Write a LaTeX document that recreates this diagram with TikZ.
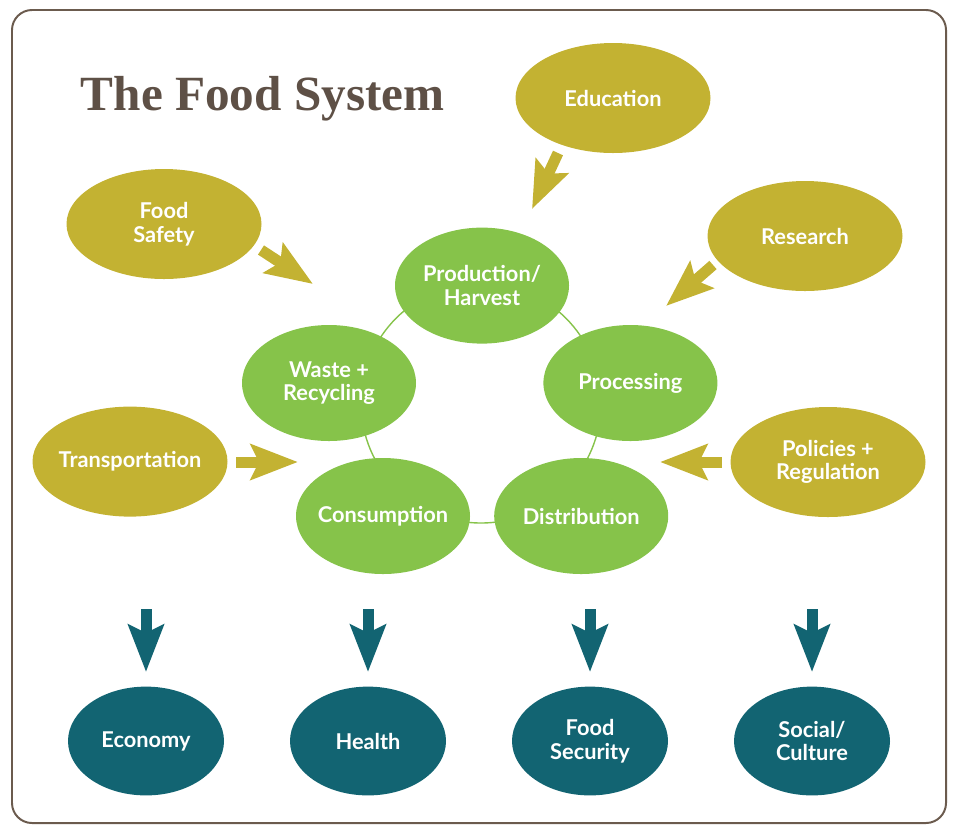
\documentclass[tikz,border=0pt]{standalone}
\usepackage{fontspec}
\setsansfont{Lato}
\newfontfamily\titlefont{Liberation Serif}
\usetikzlibrary{arrows.meta, shapes.geometric, positioning}
\definecolor{fsgold}{RGB}{195,178,50}
\definecolor{fsgreen}{RGB}{134,195,74}
\definecolor{fsteal}{RGB}{18,100,114}
\definecolor{fsframe}{RGB}{107,91,78}
\definecolor{fstitle}{RGB}{94,80,70}

\begin{document}
\begin{tikzpicture}[
    stage/.style={ellipse, fill=fsgreen, minimum width=4.35cm, minimum height=2.9cm, inner xsep=-0.15cm, inner ysep=0pt, text=white, font=\sffamily\bfseries\fontsize{15.5}{16.8}\selectfont, align=center},
    driver/.style={ellipse, fill=fsgold, minimum width=4.875cm, minimum height=2.75cm, inner xsep=-0.15cm, inner ysep=0pt, text=white, font=\sffamily\bfseries\fontsize{15.5}{16.8}\selectfont, align=center},
    outcome/.style={ellipse, fill=fsteal, minimum width=3.9cm, minimum height=2.72cm, inner xsep=-0.15cm, inner ysep=0pt, text=white, font=\sffamily\bfseries\fontsize{15.5}{16.8}\selectfont, align=center},
    blockarrow/.style={line width=0.275cm, -{Stealth[length=1.175cm, width=0.875cm, inset=0.2cm]}}
]
    \useasboundingbox (0,0) rectangle (23.825,-20.625);
    \draw[fsframe, line width=1.4pt, rounded corners=0.5cm] (0.3,-0.25) rectangle (23.65,-20.575);

    \node[anchor=base west, text=fstitle, font=\titlefont\bfseries\fontsize{35}{40}\selectfont] (title) at (1.9,-2.75) {The Food System};

    % the cycle
    \coordinate (hub) at (12.025,-10.075);
    \draw[fsgreen, line width=1pt] (hub) circle (3.0);

    \node[stage] (prod) at (12.05,-7.14) {Production/\\Harvest};
    \node[stage] (proc) at (15.76,-9.575) {Processing};
    \node[stage] (dist) at (14.53,-12.9) {Distribution};
    \node[stage] (cons) at (9.575,-12.9) {Consumption};
    \node[stage] (waste) at (8.225,-9.575) {Waste +\\Recycling};

    % drivers
    \node[driver] (edu) at (15.325,-2.45) {Education};
    \node[driver] (safety) at (4.1,-5.6) {Food\\Safety};
    \node[driver] (research) at (20.125,-5.9) {Research};
    \node[driver] (transport) at (3.25,-11.54) {Transportation};
    \node[driver] (policy) at (20.7,-11.55) {Policies +\\Regulation};

    \coordinate (edu-a) at (13.95,-3.825);
    \coordinate (edu-b) at (13.3,-5.225);
    \coordinate (safety-a) at (6.525,-6.25);
    \coordinate (safety-b) at (7.825,-7.1);
    \coordinate (research-a) at (17.825,-6.625);
    \coordinate (research-b) at (16.65,-7.65);
    \coordinate (transport-a) at (5.9,-11.55);
    \coordinate (transport-b) at (7.45,-11.55);
    \coordinate (policy-a) at (18.05,-11.55);
    \coordinate (policy-b) at (16.5,-11.55);

    \draw[blockarrow, fsgold] (edu-a) -- (edu-b);
    \draw[blockarrow, fsgold] (safety-a) -- (safety-b);
    \draw[blockarrow, fsgold] (research-a) -- (research-b);
    \draw[blockarrow, fsgold] (transport-a) -- (transport-b);
    \draw[blockarrow, fsgold] (policy-a) -- (policy-b);

    % outcomes
    \node[outcome] (econ) at (3.65,-18.525) {Economy};
    \node[outcome] (health) at (9.2,-18.525) {Health};
    \node[outcome] (secure) at (14.75,-18.525) {Food\\Security};
    \node[outcome] (social) at (20.3,-18.525) {Social/\\Culture};

    \foreach \o in {econ, health, secure, social} {
        \coordinate (\o-a) at ([yshift=3.3cm]\o.center);
        \coordinate (\o-b) at ([yshift=1.725cm]\o.center);
        \draw[blockarrow, fsteal] (\o-a) -- (\o-b);
    }
\end{tikzpicture}
\end{document}
